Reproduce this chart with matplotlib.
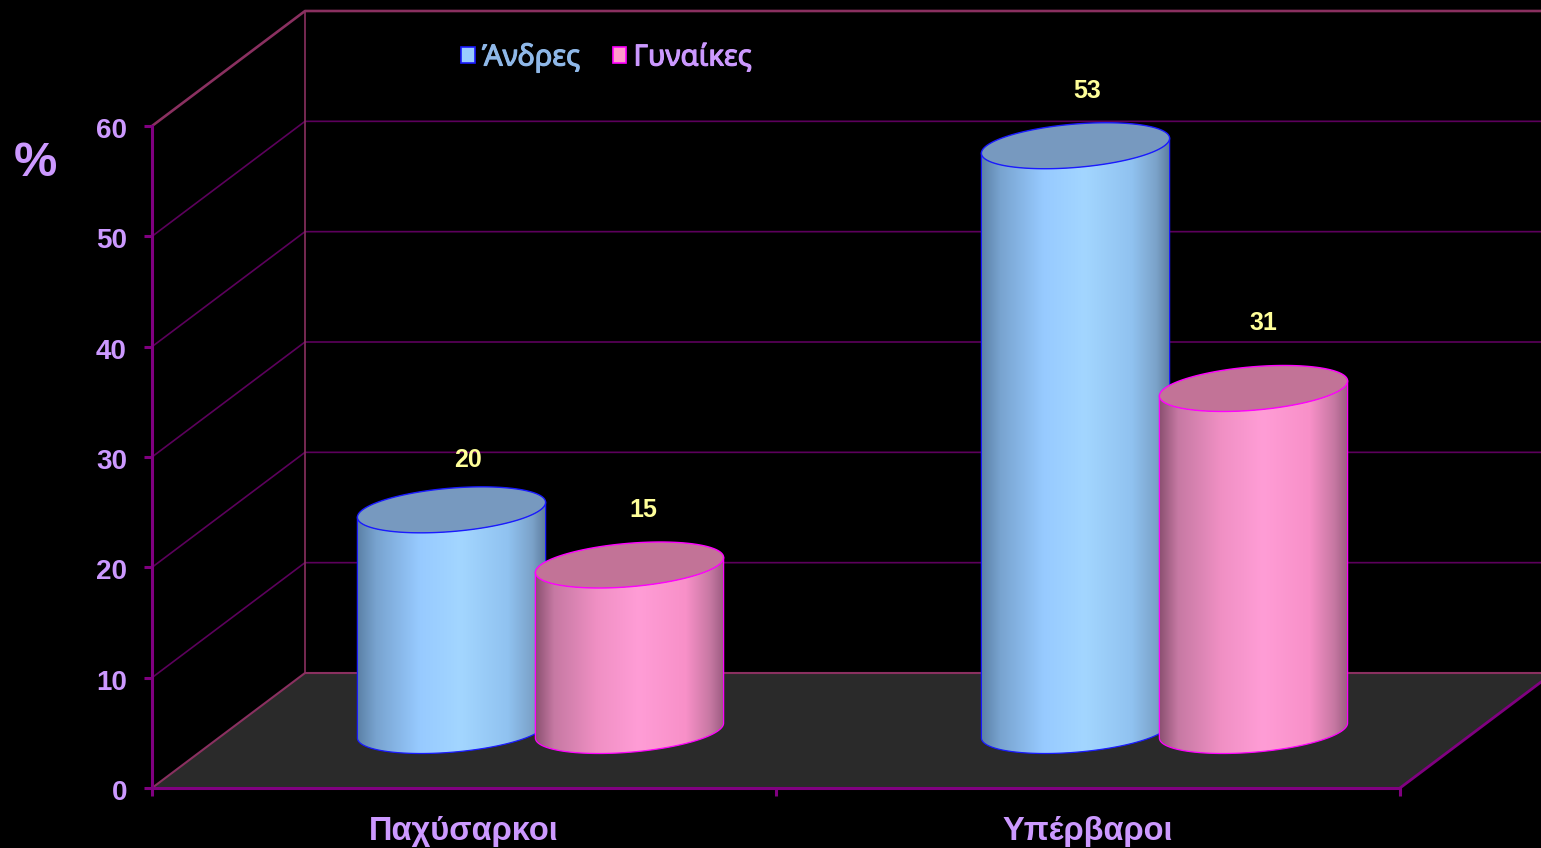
import numpy as np
import matplotlib
matplotlib.use("Agg")
import matplotlib.pyplot as plt
import matplotlib.patheffects as pe
from matplotlib.colors import LinearSegmentedColormap
from matplotlib.patches import Polygon, Patch
from matplotlib.transforms import ScaledTranslation

categories = ["Παχύσαρκοι", "Υπέρβαροι"]
series_names = ["Άνδρες", "Γυναίκες"]
men = [20, 53]
women = [15, 31]
y_ticks = [0, 10, 20, 30, 40, 50, 60]

W, H = 1541, 848
X0, X1, Y0, Y60 = 152, 1400, 788, 126
PX_X = (X1 - X0) / 2.0
PX_Y = (Y0 - Y60) / 60.0
DEPTH_X, DEPTH_Y = 153 / PX_X, 115 / PX_Y
UX, VX, VY = 89 / PX_X, 30.6 / PX_X, 23 / PX_Y

AXIS = "#800080"
WALL = "#8a3060"
GRID = "#5c005c"
TXT = "#cc99ff"
VAL = "#ffff99"
FONT = "Liberation Sans"

fig = plt.figure(figsize=(W / 100, H / 100), dpi=100, facecolor="black")
ax = fig.add_axes([X0 / W, (H - Y0) / H, (X1 - X0) / W, (Y0 - Y60) / H], facecolor="none")
ax.set_xlim(0, 2)
ax.set_ylim(0, 60)

# walls and floor
fx = [0, DEPTH_X, 2 + DEPTH_X, 2]
fy = [0, DEPTH_Y, DEPTH_Y, 0]
ax.add_patch(Polygon(np.c_[fx, fy], closed=True, fc="#2a2a2a", ec="none", zorder=1, clip_on=False))
for v in y_ticks[1:-1]:
    ax.plot([0, DEPTH_X, 2 + DEPTH_X], [v, v + DEPTH_Y, v + DEPTH_Y], color=GRID, lw=1.2, zorder=1.5, clip_on=False)
ax.plot([0, DEPTH_X, 2 + DEPTH_X], [0, DEPTH_Y, DEPTH_Y], color=WALL, lw=1.5, zorder=2, clip_on=False)
ax.plot([0, DEPTH_X, 2 + DEPTH_X], [60, 60 + DEPTH_Y, 60 + DEPTH_Y], color=WALL, lw=1.9, zorder=2, clip_on=False)
ax.plot([DEPTH_X, DEPTH_X], [0 + DEPTH_Y, 60 + DEPTH_Y], color=WALL, lw=1.2, zorder=2, clip_on=False)
ax.plot([2, 2 + DEPTH_X], [0, DEPTH_Y], color=AXIS, lw=2.0, zorder=2, clip_on=False)

blue = LinearSegmentedColormap.from_list("b", [(0, "#5b80a6"), (.1, "#78a3cf"), (.33, "#97caff"),
                                                (.55, "#a3d6ff"), (.8, "#90c2f0"), (.93, "#7ba2c9"), (1, "#5d7d9e")])
pink = LinearSegmentedColormap.from_list("p", [(0, "#8a5070"), (.1, "#c679a3"), (.33, "#f090c4"),
                                                (.55, "#ff9dd6"), (.8, "#f890c8"), (.93, "#c678a2"), (1, "#9c5c82")])


def ellipse(cx, cy, t):
    return cx + UX * np.cos(t) + VX * np.sin(t), cy + VY * np.sin(t)


def cylinder(cx, value, cmap, top, edge, z):
    base = DEPTH_Y / 2
    tr = np.arctan2(VX, UX)            # parameter of the rightmost point
    t_all = np.linspace(0, 2 * np.pi, 240)
    # the front half of an ellipse runs from the left extreme to the right extreme
    t_front = np.linspace(tr + np.pi, tr + 2 * np.pi, 120)
    bx, by = ellipse(cx, base, t_front)
    ux, uy = ellipse(cx, base + value, t_front[::-1])
    body = np.r_[np.c_[bx, by], np.c_[ux, uy]]
    half = np.hypot(UX, VX)
    grad = np.linspace(0, 1, 256).reshape(1, -1)
    ymin, ymax = base - VY * 1.5, base + value + VY * 1.5
    im = ax.imshow(grad, cmap=cmap, extent=[cx - half, cx + half, ymin, ymax], aspect="auto",
                   interpolation="bilinear", zorder=z, clip_on=True)
    clip = Polygon(body, closed=True, transform=ax.transData, fc="none", ec="none")
    ax.add_patch(clip)
    clip.set_clip_on(False)
    im.set_clip_path(clip)
    ax.plot(np.r_[bx[0], bx, bx[-1]], np.r_[by[0] + value, by, by[-1] + value], color=edge, lw=0.9,
            zorder=z + .1, clip_on=False)
    tx, ty = ellipse(cx, base + value, t_all)
    ax.add_patch(Polygon(np.c_[tx, ty], closed=True, fc=top, ec=edge, lw=1.0, zorder=z + .2, clip_on=False))


nudges = [[(16.5, -50), (12, -55)], [(13.5, -55), (9.5, -65)]]
specs = [(men, -UX, blue, "#7799bf", "#1a1aff"), (women, UX, pink, "#c27397", "#ff00ff")]
for i, (vals, off, cm, top, edge) in enumerate(specs):
    for j, v in enumerate(vals):
        cx = j + .5 + DEPTH_X / 2 + off
        cylinder(cx, v, cm, top, edge, 3 + j * 2 + i * .5)
        nx, ny = nudges[i][j]
        ax.annotate(str(v), (cx, DEPTH_Y / 2 + v), xytext=(nx * .72, -ny * .72), textcoords="offset points",
                    ha="center", va="center", color=VAL, fontsize=18, fontweight="bold", family=FONT,
                    annotation_clip=False, zorder=10)
ax.set_xlim(0, 2)
ax.set_ylim(0, 60)

for s in ("top", "right"):
    ax.spines[s].set_visible(False)
for s in ("left", "bottom"):
    ax.spines[s].set_color(AXIS)
    ax.spines[s].set_linewidth(2.2)
    ax.spines[s].set_zorder(2.5)
ax.set_yticks(y_ticks)
ax.set_xticks([0, 1, 2])
ax.set_xticklabels([])
ax.set_xticks([.5, 1.5], labels=categories, minor=True)
ax.tick_params(axis="y", length=6, width=2.2, color=AXIS, pad=12, labelcolor=TXT, labelsize=20)
ax.tick_params(axis="x", which="major", length=6, width=2.2, color=AXIS)
ax.tick_params(axis="x", which="minor", length=0, pad=20, labelcolor=TXT, labelsize=23.5)
shift = ScaledTranslation(0, -2 / 100, fig.dpi_scale_trans)
for lab in ax.get_yticklabels():
    lab.set_transform(lab.get_transform() + shift)
for lab in ax.get_yticklabels() + ax.get_xticklabels(minor=True):
    lab.set_family(FONT)
    lab.set_fontweight("bold")

ax.set_ylabel("%", rotation=0, color=TXT, fontsize=35, fontweight="bold", family=FONT, ha="center", va="center")
ax.yaxis.set_label_coords((35 - X0) / (X1 - X0), (Y0 - 164) / (Y0 - Y60))

handles = [Patch(fc="#99ccff", ec="#1a1aff", lw=1.2), Patch(fc="#ff99cc", ec="#ff00ff", lw=1.2)]
leg = fig.legend(handles, series_names, ncol=2, frameon=False, loc="center left",
                 bbox_to_anchor=(435 / W, 1 - 58 / H), handlelength=.47, handleheight=.47,
                 handletextpad=.24, columnspacing=1.12, labelcolor=["#8fb8e8", TXT],
                 prop={"family": "Noto Sans", "size": 21})
for t in leg.get_texts():
    t.set_path_effects([pe.withStroke(linewidth=.8, foreground=t.get_color())])

fig.savefig("out.png", dpi=100, facecolor="black")
